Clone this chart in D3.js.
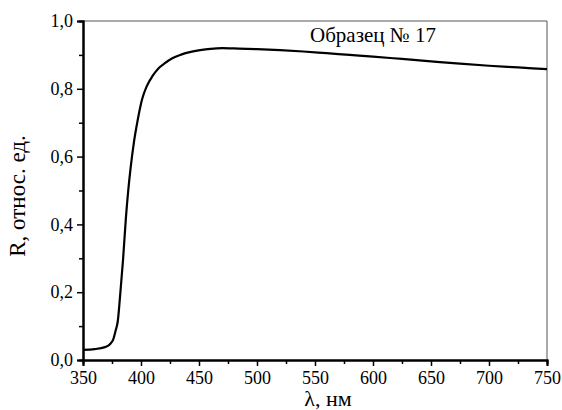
<!DOCTYPE html>
<html>
<head>
<meta charset="utf-8">
<script src="https://cdn.jsdelivr.net/npm/d3@7"></script>
<style>
  body { margin: 0; background: #fff; }
  text { font-family: "Liberation Serif", "Times New Roman", serif; fill: #000; }
</style>
</head>
<body>
<div id="chart"></div>
<script>
// spectrum
var wavelengths = [350, 360, 369, 373, 376, 378, 380, 382, 384.5, 387, 389, 391, 394, 397, 401, 405, 410, 415, 420, 427, 434, 442, 451, 460, 470, 480, 500, 520, 540, 560, 580, 600, 625, 650, 675, 700, 725, 750];
var reflect     = [0.030, 0.032, 0.038, 0.046, 0.060, 0.085, 0.115, 0.190, 0.295, 0.420, 0.500, 0.565, 0.645, 0.705, 0.770, 0.808, 0.838, 0.860, 0.874, 0.890, 0.900, 0.908, 0.914, 0.918, 0.920, 0.919, 0.917, 0.914, 0.910, 0.905, 0.900, 0.895, 0.888, 0.881, 0.874, 0.868, 0.863, 0.858];
var xTicks = [350, 400, 450, 500, 550, 600, 650, 700, 750];
var yTicks = [0, 0.2, 0.4, 0.6, 0.8, 1.0];
var sampleLabel = "Образец № 17";

var W = 562, H = 410;
var margin = {top: 21, right: 15, bottom: 50, left: 83};
var width = W - margin.left - margin.right,
    height = H - margin.top - margin.bottom;
var serif = "'Liberation Serif', 'Times New Roman', serif";

var x = d3.scaleLinear().domain([350, 750]).range([0, width]);
var y = d3.scaleLinear().domain([0, 1]).range([height, 0]);

var svg = d3.select("#chart").append("svg")
    .attr("width", W).attr("height", H)
  .append("g")
    .attr("transform", "translate(" + margin.left + "," + margin.top + ")");

var fmt = function(d) { return d3.format(".1f")(d).replace(".", ","); };

// frame (top + right thin)
svg.append("path")
    .attr("d", "M0,0H" + width + "V" + height)
    .attr("fill", "none").attr("stroke", "#555").attr("stroke-width", 1);

// minor ticks
var xMinor = d3.range(375, 750, 50);
var yMinor = d3.range(0.1, 1.0, 0.2);

var gx = svg.append("g").attr("transform", "translate(0," + height + ")");
gx.call(d3.axisBottom(x).tickValues(xMinor).tickSize(4).tickFormat(""));
gx.append("g").call(d3.axisBottom(x).tickValues(xTicks).tickSize(6).tickPadding(4).tickFormat(d3.format("d")));

var gy = svg.append("g");
gy.call(d3.axisLeft(y).tickValues(yMinor).tickSize(4).tickFormat(""));
gy.append("g").call(d3.axisLeft(y).tickValues(yTicks).tickSize(6).tickPadding(4).tickFormat(fmt));

svg.selectAll("g").attr("font-family", serif);
svg.selectAll(".domain").attr("stroke", "#000").attr("stroke-width", 2);
svg.selectAll(".tick line").attr("stroke", "#000").attr("stroke-width", 1.5);
svg.selectAll(".tick text")
    .style("font-family", serif)
    .style("font-size", "18px")
    .attr("fill", "#000");
gx.selectAll(".tick text").attr("dy", "0.8em");

// curve
var pts = wavelengths.map(function(w, i) { return [w, reflect[i]]; });
var line = d3.line()
    .x(function(d) { return x(d[0]); })
    .y(function(d) { return y(d[1]); })
    .curve(d3.curveMonotoneX);
svg.append("path")
    .datum(pts)
    .attr("d", line)
    .attr("fill", "none")
    .attr("stroke", "#000")
    .attr("stroke-width", 2.2);

// sample label
svg.append("text")
    .attr("x", 290)
    .attr("y", 21)
    .attr("text-anchor", "middle")
    .style("font-family", serif)
    .style("font-size", "21px")
    .text(sampleLabel);

// axis titles
svg.append("text")
    .attr("x", 245)
    .attr("y", height + 46)
    .attr("text-anchor", "middle")
    .style("font-family", serif)
    .style("font-size", "22px")
    .text("λ, нм");

svg.append("text")
    .attr("transform", "translate(" + (-58) + "," + (175) + ") rotate(-90)")
    .attr("text-anchor", "middle")
    .style("font-family", serif)
    .style("font-size", "23px")
    .text("R, относ. ед.");
</script>
</body>
</html>
